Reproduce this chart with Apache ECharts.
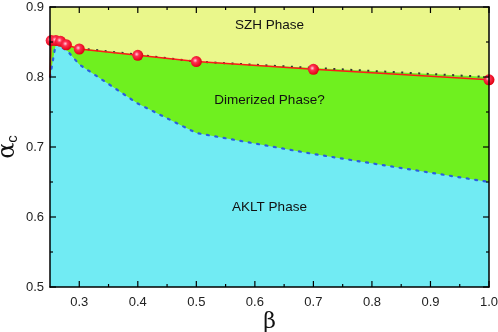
<!DOCTYPE html>
<html><head><meta charset="utf-8">
<script src="https://cdn.jsdelivr.net/npm/echarts@6/dist/echarts.min.js"></script>
<style>html,body{margin:0;padding:0;background:#fff}#c{width:498px;height:332px}</style>
</head><body><div id="c"></div>
<script>
// boundary of SZH phase (red points)
const betaRed  = [0.25, 0.252, 0.26, 0.268, 0.278, 0.30, 0.40, 0.50, 0.70, 1.00];
const alphaRed = [0.80, 0.852, 0.852, 0.851, 0.846, 0.840, 0.831, 0.822, 0.811, 0.796];
// upper boundary of dimerized region (black dotted)
const betaTop  = [0.25, 0.252, 0.26, 0.268, 0.278, 0.30, 0.40, 0.50, 0.70, 1.00];
const alphaTop = [0.80, 0.852, 0.852, 0.851, 0.846, 0.841, 0.832, 0.822, 0.813, 0.80];
const betaDot  = [0.30, 0.40, 0.50, 0.70, 1.00];
const alphaDot = [0.841, 0.832, 0.822, 0.813, 0.80];
// AKLT boundary (blue dotted)
const betaAklt  = [0.25, 0.26, 0.28, 0.30, 0.40, 0.50, 0.70, 1.00];
const alphaAklt = [0.80, 0.848, 0.837, 0.818, 0.762, 0.72, 0.69, 0.65];
const xMajor = [0.3, 0.4, 0.5, 0.6, 0.7, 0.8, 0.9, 1.0];
const xMinor = [0.35, 0.45, 0.55, 0.65, 0.75, 0.85, 0.95];
const yMajor = [0.5, 0.6, 0.7, 0.8, 0.9];
const yMinor = [0.55, 0.65, 0.75, 0.85];

const zip = (a, b) => a.map((v, i) => [v, b[i]]);
const font = '"Liberation Sans", Arial, sans-serif';

function xAx(pos, labels) {
  return {type: 'value', min: 0.25, max: 1.0, position: pos, z: 10, zlevel: 1,
    axisLine: {show: true, lineStyle: {color: '#000', width: 1.5}},
    splitLine: {show: false},
    axisTick: {show: false},
    axisLabel: labels ? {show: true, customValues: xMajor, color: '#222', fontSize: 13, fontFamily: font, margin: 9,
      formatter: v => v.toFixed(1)} : {show: false}};
}
function yAx(pos, labels) {
  return {type: 'value', min: 0.5, max: 0.9, interval: 0.1, position: pos, z: 10, zlevel: 1,
    axisLine: {show: true, lineStyle: {color: '#000', width: 1.5}},
    splitLine: {show: false},
    axisTick: {show: false},
    axisLabel: labels ? {show: true, customValues: yMajor, color: '#222', fontSize: 13, fontFamily: font, margin: 6,
      formatter: v => v.toFixed(1)} : {show: false}};
}

const chart = echarts.init(document.getElementById('c'), null, {renderer: 'canvas'});
const xAxes = [xAx('bottom', true), xAx('top', false)];
xAxes[0].name = 'β';
xAxes[0].nameLocation = 'middle';
xAxes[0].nameGap = 24;
xAxes[0].nameMoveOverlap = false;
xAxes[0].nameTextStyle = {fontSize: 22, fontFamily: '"DejaVu Serif", serif', color: '#111'};
const yAxes = [yAx('left', true), yAx('right', false)];
yAxes[0].name = '{a|α}{c|c}';
yAxes[0].nameLocation = 'middle';
yAxes[0].nameGap = 30;
yAxes[0].nameMoveOverlap = false;
yAxes[0].nameRotate = 90;
yAxes[0].nameTextStyle = {rich: {
  a: {fontSize: 24, fontFamily: '"DejaVu Serif", serif', color: '#111'},
  c: {fontSize: 15, fontFamily: font, color: '#111', padding: [10, 0, 0, 0]}
}};

chart.setOption({
  animation: false,
  backgroundColor: '#fff',
  grid: {left: 50, right: 9, top: 7, bottom: 45, show: true, backgroundColor: '#eaf78b', borderWidth: 0,
    outerBoundsMode: 'none', containLabel: false},
  xAxis: xAxes,
  yAxis: yAxes,
  series: [
    {type: 'line', data: zip(betaTop, alphaTop), symbol: 'none', lineStyle: {width: 0},
      areaStyle: {color: '#6ff01f', opacity: 1, origin: 'start'}, z: 1},
    {type: 'line', data: zip(betaAklt, alphaAklt), symbol: 'none',
      lineStyle: {color: '#2a5fe0', width: 2.2, type: [2, 6.5], cap: 'round'},
      areaStyle: {color: '#71ebf3', opacity: 1, origin: 'start'}, z: 2},
    {type: 'line', data: zip(betaDot, alphaDot), symbol: 'none',
      lineStyle: {color: '#333', width: 2, type: [2, 6.5]}, z: 3},
    {type: 'line', data: zip(betaRed, alphaRed).map((p, i) => i === 0 ? {value: p, symbol: 'none'} : p),
      symbol: 'circle', symbolSize: 11, showSymbol: true,
      lineStyle: {color: '#ff1a1a', width: 1.5},
      itemStyle: {color: new echarts.graphic.RadialGradient(0.4, 0.4, 0.6, [
        {offset: 0, color: '#ffd0e0'}, {offset: 0.35, color: '#ff3050'}, {offset: 1, color: '#e00010'}]), borderWidth: 0},
      z: 4}
  ]
});

// ticks (inside, on all four sides) and phase labels, placed via the chart's own scales
function tickLine(p1, p2) {
  return {type: 'line', shape: {x1: p1[0], y1: p1[1], x2: p2[0], y2: p2[1]},
    style: {stroke: '#000', lineWidth: 1.2}, z: 50, zlevel: 1, silent: true};
}
const g = [];
const yMin = 0.5, yMax = 0.9, xMin = 0.25, xMax = 1.0;
xMajor.concat(xMinor).forEach((v, i) => {
  const len = i < xMajor.length ? 6 : 3;
  const b = chart.convertToPixel({xAxisIndex: 0, yAxisIndex: 0}, [v, yMin]);
  const t = chart.convertToPixel({xAxisIndex: 0, yAxisIndex: 0}, [v, yMax]);
  g.push(tickLine(b, [b[0], b[1] - len]));
  g.push(tickLine(t, [t[0], t[1] + len]));
});
yMajor.concat(yMinor).forEach((v, i) => {
  const len = i < yMajor.length ? 6 : 3;
  const l = chart.convertToPixel({xAxisIndex: 0, yAxisIndex: 0}, [xMin, v]);
  const r = chart.convertToPixel({xAxisIndex: 0, yAxisIndex: 0}, [xMax, v]);
  g.push(tickLine(l, [l[0] + len, l[1]]));
  g.push(tickLine(r, [r[0] - len, r[1]]));
});
const cx = chart.convertToPixel({xAxisIndex: 0}, 0.625);
const txt = (s, y) => ({type: 'text', x: cx, y: y, z: 60, zlevel: 1,
  style: {text: s, fontSize: 13.5, fontFamily: font, fill: '#111', align: 'center', verticalAlign: 'middle'}});
g.push(txt('SZH Phase', 25), txt('Dimerized Phase?', 100), txt('AKLT Phase', 207));
chart.setOption({graphic: g});
</script></body></html>
